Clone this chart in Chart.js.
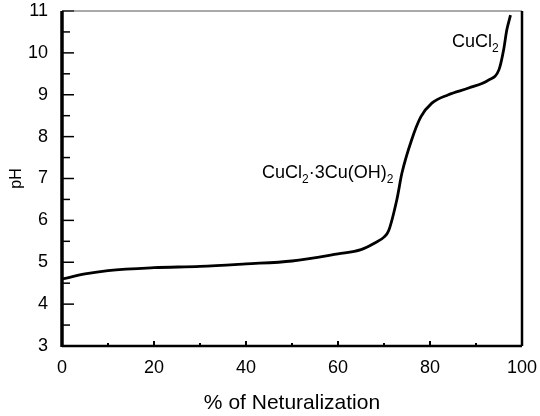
<!DOCTYPE html>
<html lang="en">
<head>
    <meta charset="UTF-8">
    <title>pH vs % of Neturalization</title>
    <script src="https://cdn.jsdelivr.net/npm/chart.js"></script>
    <style>
        body {
            margin: 0;
            background: #ffffff;
        }
        .chart-box {
            width: 540px;
            height: 416px;
        }
    </style>
</head>
<body>
    <div class="chart-box">
        <canvas id="titration"></canvas>
    </div>

    <script>
        // titration curve
        const neutralization = [0, 5, 10, 20, 30, 40, 50, 60, 65, 68, 70, 71, 72.8, 73.9, 76, 78, 80.4, 84, 88.4, 92.7, 95, 96, 96.7, 97.5];
        const phValues = [4.6, 4.72, 4.8, 4.87, 4.9, 4.96, 5.03, 5.2, 5.3, 5.46, 5.6, 5.75, 6.5, 7.13, 7.92, 8.47, 8.8, 9.0, 9.16, 9.35, 9.6, 10.07, 10.55, 10.9];
        const xTicks = [0, 20, 40, 60, 80, 100];
        const yTicks = [3, 4, 5, 6, 7, 8, 9, 10, 11];

        // labels: [text, subscript] pieces, anchored at data coords (left, baseline)
        const labels = [
            { x: 84.8, y: 10.14, parts: [['CuCl', false], ['2', true]] },
            { x: 43.5, y: 7.01, parts: [['CuCl', false], ['2', true], ['\u00b73Cu(OH)', false], ['2', true]] }
        ];

        const FONT = '"Liberation Sans", Arial, sans-serif';

        // frame + inward ticks + labels
        const framePlugin = {
            id: 'frame',
            afterDraw(chart) {
                const ctx = chart.ctx;
                const a = chart.chartArea;
                const xs = chart.scales.x, ys = chart.scales.y;
                ctx.save();
                ctx.strokeStyle = '#000';

                // ticks (major + minor)
                ctx.lineWidth = 2;
                for (let v = 0; v <= 100; v += 10) {
                    const px = xs.getPixelForValue(v);
                    const len = v % 20 === 0 ? 5 : 3;
                    ctx.beginPath();
                    ctx.moveTo(px, a.bottom);
                    ctx.lineTo(px, a.bottom - len);
                    ctx.stroke();
                }
                ctx.lineWidth = 1.5;
                for (let v = 3; v <= 11; v += 0.5) {
                    const py = ys.getPixelForValue(v);
                    const len = Number.isInteger(v) ? 12 : 8;
                    ctx.beginPath();
                    ctx.moveTo(a.left, py);
                    ctx.lineTo(a.left + len, py);
                    ctx.stroke();
                }

                // box
                ctx.lineWidth = 1;
                ctx.strokeStyle = '#555';
                ctx.beginPath();
                ctx.moveTo(a.left, a.top);
                ctx.lineTo(a.right, a.top);
                ctx.stroke();
                ctx.strokeStyle = '#000';
                ctx.lineWidth = 2.5;
                ctx.beginPath();
                ctx.moveTo(a.right, a.top);
                ctx.lineTo(a.right, a.bottom);
                ctx.stroke();
                ctx.lineWidth = 2.5;
                ctx.beginPath();
                ctx.moveTo(a.left, a.bottom);
                ctx.lineTo(a.right, a.bottom);
                ctx.stroke();
                ctx.lineWidth = 3.5;
                ctx.beginPath();
                ctx.moveTo(a.left, a.top);
                ctx.lineTo(a.left, a.bottom + 1);
                ctx.stroke();

                // species labels with subscripts
                ctx.fillStyle = '#000';
                ctx.textBaseline = 'alphabetic';
                labels.forEach(l => {
                    let px = xs.getPixelForValue(l.x);
                    const py = ys.getPixelForValue(l.y);
                    l.parts.forEach(([t, sub]) => {
                        ctx.font = (sub ? '12px ' : '18px ') + FONT;
                        ctx.fillText(t, px, sub ? py + 5 : py);
                        px += ctx.measureText(t).width;
                    });
                });
                ctx.restore();
            }
        };

        const ctx = document.getElementById('titration').getContext('2d');
        new Chart(ctx, {
            type: 'line',
            data: {
                datasets: [{
                    data: neutralization.map((x, i) => ({ x: x, y: phValues[i] })),
                    borderColor: '#000',
                    borderWidth: 2.8,
                    pointRadius: 0,
                    cubicInterpolationMode: 'monotone',
                    fill: false
                }]
            },
            options: {
                responsive: true,
                maintainAspectRatio: false,
                animation: false,
                layout: { padding: { top: 11, right: 18, bottom: 0, left: 0 } },
                plugins: {
                    legend: { display: false },
                    tooltip: { enabled: false }
                },
                scales: {
                    x: {
                        type: 'linear',
                        min: 0,
                        max: 100,
                        afterBuildTicks: s => { s.ticks = xTicks.map(v => ({ value: v })); },
                        afterFit: s => { s.height = 70; s.paddingLeft = 0; s.paddingRight = 0; },
                        grid: { display: false, drawTicks: false },
                        border: { display: false },
                        ticks: { color: '#000', padding: 11, maxRotation: 0, font: { size: 18, family: FONT } },
                        title: {
                            display: true,
                            text: '% of Neturalization',
                            color: '#000',
                            padding: { top: 0, bottom: 0 },
                            font: { size: 21, family: FONT }
                        }
                    },
                    y: {
                        min: 3,
                        max: 11,
                        afterBuildTicks: s => { s.ticks = yTicks.map(v => ({ value: v })); },
                        afterFit: s => { s.width = 62; s.paddingTop = 0; s.paddingBottom = 0; },
                        grid: { display: false, drawTicks: false },
                        border: { display: false },
                        ticks: { color: '#000', padding: 14, font: { size: 18, family: FONT } },
                        title: {
                            display: true,
                            text: 'pH',
                            color: '#000',
                            padding: { top: 7, bottom: 0 },
                            font: { size: 16, family: FONT }
                        }
                    }
                }
            },
            plugins: [framePlugin]
        });
    </script>
</body>
</html>
